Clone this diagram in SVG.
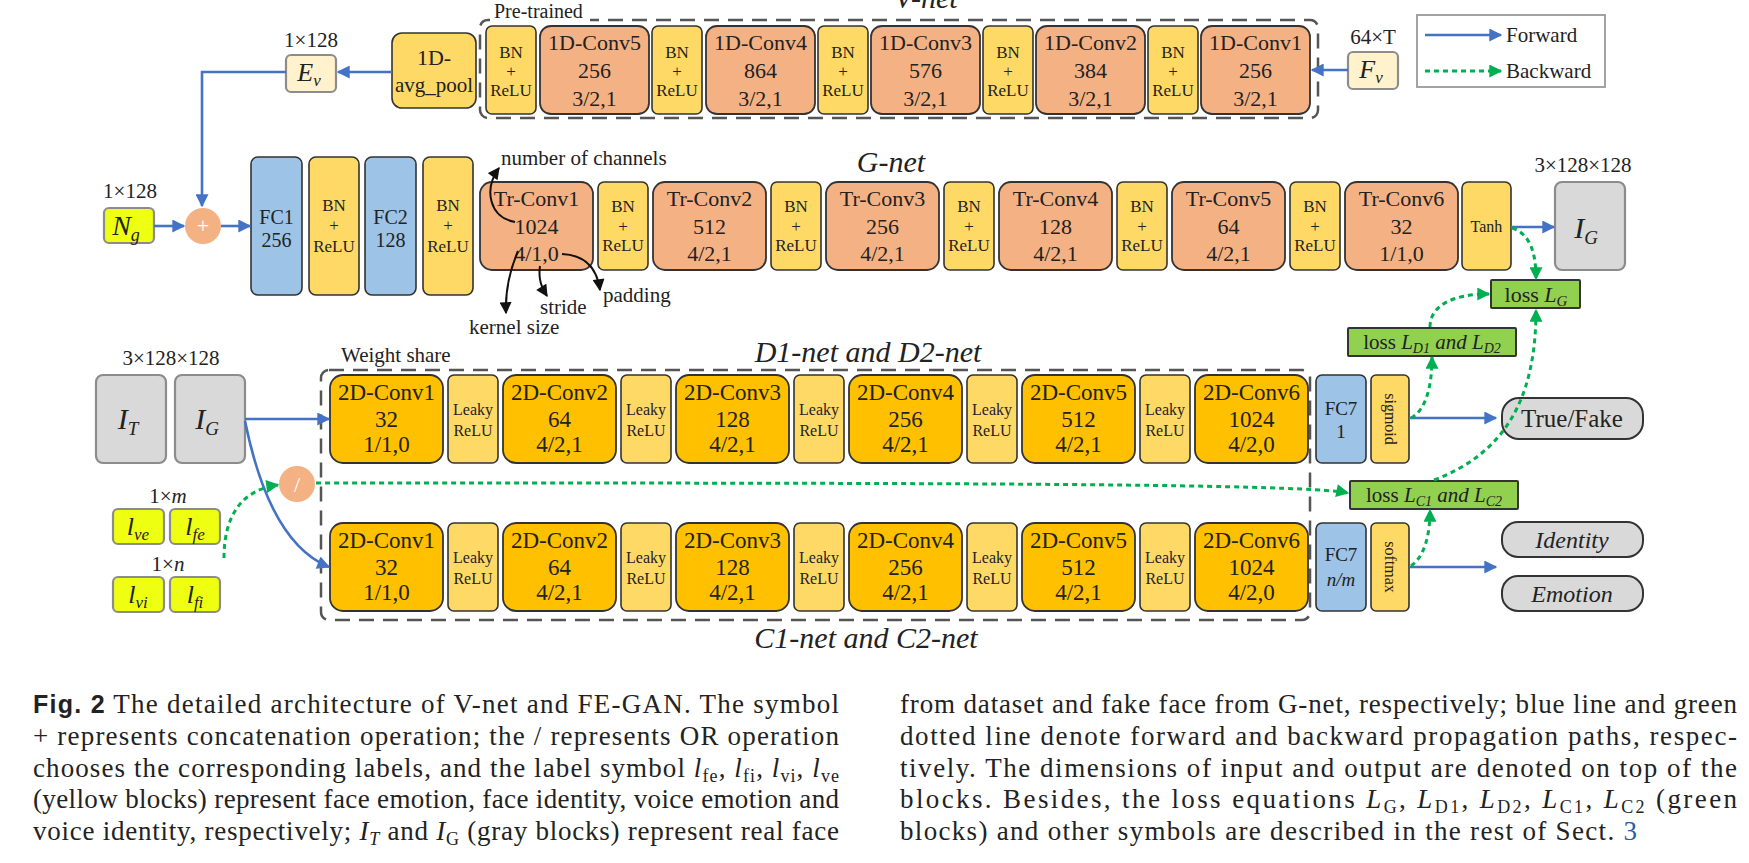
<svg xmlns="http://www.w3.org/2000/svg" width="1749" height="863" viewBox="0 0 1749 863" font-family="'Liberation Serif', 'Times New Roman', serif">
<style>
text{font-family:"Liberation Serif","Times New Roman",serif;fill:#222}
.c1{fill:#F4B183;stroke:#333;stroke-width:1.8}
.bn{fill:#FFD966;stroke:#333;stroke-width:1.6}
.fc{fill:#9DC3E6;stroke:#333;stroke-width:1.6}
.c2{fill:#FFC000;stroke:#333;stroke-width:1.8}
.gray{fill:#D9D9D9;stroke:#8c8c8c;stroke-width:2.2}
.pill{fill:#D9D9D9;stroke:#333;stroke-width:2}
.loss{fill:#92D050;stroke:#333;stroke-width:2}
.lbl{fill:#EEFF11;stroke:#8c8c8c;stroke-width:2.2}
.ev{fill:#FFF2CC;stroke:#8c8c8c;stroke-width:2.2}
.dash{fill:none;stroke:#555;stroke-width:2.5;stroke-dasharray:15 9}
.t22{font-size:22px;text-anchor:middle}
.t23{font-size:23px;text-anchor:middle}
.t17{font-size:17px;text-anchor:middle}
.t16{font-size:16px;text-anchor:middle}
.t21{font-size:21px}
.ttl{font-size:30px;font-style:italic;text-anchor:middle}
.it{font-style:italic}
.blue{fill:none;stroke:#4472C4;stroke-width:2.6}
.green{fill:none;stroke:#00B050;stroke-width:3;stroke-dasharray:5 4}
.blk{fill:none;stroke:#111;stroke-width:2}
.cap{font-size:27px}
.sans{font-family:"Liberation Sans",Arial,sans-serif;font-weight:bold;font-size:25px}
</style>
<defs>
<marker id="ab" viewBox="0 0 10 10" refX="9" refY="5" markerWidth="15" markerHeight="13" markerUnits="userSpaceOnUse" orient="auto"><path d="M0,0 L10,5 L0,10 z" fill="#4472C4"/></marker>
<marker id="ag" viewBox="0 0 10 10" refX="9" refY="5" markerWidth="14" markerHeight="13" markerUnits="userSpaceOnUse" orient="auto"><path d="M0,0 L10,5 L0,10 z" fill="#00B050"/></marker>
<marker id="ak" viewBox="0 0 10 10" refX="9" refY="5" markerWidth="13" markerHeight="12" markerUnits="userSpaceOnUse" orient="auto"><path d="M0,0 L10,5 L0,10 z" fill="#111"/></marker>
</defs>
<rect width="1749" height="863" fill="#fff"/>

<!-- ============ V-net ============ -->
<g id="vnet-frame">
<rect class="dash" x="480" y="20" width="838" height="98" rx="8"/>
<rect x="490" y="2" width="100" height="22" fill="#fff"/>
<text x="494" y="18" font-size="20">Pre-trained</text>
<text class="ttl" x="926" y="8">V-net</text>
</g>
<g id="avgpool"><rect class="bn" x="392" y="33" width="84" height="75" rx="10"/><text class="t22" x="434" y="65">1D-</text><text class="t22" x="434" y="92" style="font-size:21px">avg_pool</text></g>
<g id="vbn0"><rect class="bn" x="486" y="26" width="50" height="88" rx="6"/><text class="t17" x="511" y="58">BN</text><text class="t17" x="511" y="77">+</text><text class="t17" x="511" y="96">ReLU</text></g>
<g id="vconv5"><rect class="c1" x="540" y="26" width="109" height="88" rx="11"/><text class="t22" x="594.5" y="50">1D-Conv5</text><text class="t22" x="594.5" y="78">256</text><text class="t22" x="594.5" y="106">3/2,1</text></g>
<g id="vbn1"><rect class="bn" x="652" y="26" width="50" height="88" rx="6"/><text class="t17" x="677" y="58">BN</text><text class="t17" x="677" y="77">+</text><text class="t17" x="677" y="96">ReLU</text></g>
<g id="vconv4"><rect class="c1" x="706" y="26" width="109" height="88" rx="11"/><text class="t22" x="760.5" y="50">1D-Conv4</text><text class="t22" x="760.5" y="78">864</text><text class="t22" x="760.5" y="106">3/2,1</text></g>
<g id="vbn2"><rect class="bn" x="818" y="26" width="50" height="88" rx="6"/><text class="t17" x="843" y="58">BN</text><text class="t17" x="843" y="77">+</text><text class="t17" x="843" y="96">ReLU</text></g>
<g id="vconv3"><rect class="c1" x="871" y="26" width="109" height="88" rx="11"/><text class="t22" x="925.5" y="50">1D-Conv3</text><text class="t22" x="925.5" y="78">576</text><text class="t22" x="925.5" y="106">3/2,1</text></g>
<g id="vbn3"><rect class="bn" x="983" y="26" width="50" height="88" rx="6"/><text class="t17" x="1008" y="58">BN</text><text class="t17" x="1008" y="77">+</text><text class="t17" x="1008" y="96">ReLU</text></g>
<g id="vconv2"><rect class="c1" x="1036" y="26" width="109" height="88" rx="11"/><text class="t22" x="1090.5" y="50">1D-Conv2</text><text class="t22" x="1090.5" y="78">384</text><text class="t22" x="1090.5" y="106">3/2,1</text></g>
<g id="vbn4"><rect class="bn" x="1148" y="26" width="50" height="88" rx="6"/><text class="t17" x="1173" y="58">BN</text><text class="t17" x="1173" y="77">+</text><text class="t17" x="1173" y="96">ReLU</text></g>
<g id="vconv1"><rect class="c1" x="1201" y="26" width="109" height="88" rx="11"/><text class="t22" x="1255.5" y="50">1D-Conv1</text><text class="t22" x="1255.5" y="78">256</text><text class="t22" x="1255.5" y="106">3/2,1</text></g>
<g id="ev"><text class="t21" x="311" y="47" text-anchor="middle">1×128</text><rect class="ev" x="286" y="55" width="50" height="37" rx="5"/><text x="309" y="81" font-size="26" class="it" text-anchor="middle">E<tspan font-size="17" dy="5">v</tspan></text></g>
<g id="fv"><text class="t21" x="1373" y="44" text-anchor="middle">64×T</text><rect class="ev" x="1348" y="52" width="50" height="37" rx="5"/><text x="1371" y="78" font-size="26" class="it" text-anchor="middle">F<tspan font-size="17" dy="5">v</tspan></text></g>

<!-- legend -->
<g id="legend">
<rect x="1417" y="15" width="188" height="72" fill="#fff" stroke="#999" stroke-width="1.8"/>
<line class="blue" x1="1425" y1="35" x2="1501" y2="35" marker-end="url(#ab)"/>
<text class="t21" x="1506" y="42">Forward</text>
<line class="green" x1="1425" y1="71" x2="1501" y2="71" marker-end="url(#ag)"/>
<text class="t21" x="1506" y="78">Backward</text>
</g>

<!-- ============ G-net ============ -->
<g id="ng"><text class="t21" x="130" y="198" text-anchor="middle">1×128</text><rect class="lbl" x="104" y="208" width="50" height="35" rx="5"/><text x="126" y="235" font-size="28" class="it" text-anchor="middle">N<tspan font-size="18" dy="6">g</tspan></text></g>
<g id="concat"><circle cx="203" cy="226" r="18" fill="#F4B183"/><text x="203" y="233" font-size="22" text-anchor="middle" style="fill:#fff">+</text></g>
<g id="fc1"><rect class="fc" x="251" y="157" width="51" height="138" rx="7"/><text x="276.5" y="224" font-size="20" text-anchor="middle">FC1</text><text x="276.5" y="247" font-size="20" text-anchor="middle">256</text></g>
<g id="gbn0"><rect class="bn" x="309" y="157" width="50" height="138" rx="7"/><text class="t17" x="334" y="211">BN</text><text class="t17" x="334" y="231">+</text><text class="t17" x="334" y="252">ReLU</text></g>
<g id="fc2"><rect class="fc" x="365" y="157" width="51" height="138" rx="7"/><text x="390.5" y="224" font-size="20" text-anchor="middle">FC2</text><text x="390.5" y="247" font-size="20" text-anchor="middle">128</text></g>
<g id="gbn1"><rect class="bn" x="423" y="157" width="50" height="138" rx="7"/><text class="t17" x="448" y="211">BN</text><text class="t17" x="448" y="231">+</text><text class="t17" x="448" y="252">ReLU</text></g>
<g id="trconv1"><rect class="c1" x="480" y="182" width="113" height="88" rx="12"/><text class="t22" x="536.5" y="206">Tr-Conv1</text><text class="t22" x="536.5" y="234">1024</text><text class="t22" x="536.5" y="261">4/1,0</text></g>
<g id="gbn2"><rect class="bn" x="598" y="182" width="50" height="88" rx="6"/><text class="t17" x="623" y="212">BN</text><text class="t17" x="623" y="232">+</text><text class="t17" x="623" y="251">ReLU</text></g>
<g id="trconv2"><rect class="c1" x="653" y="182" width="113" height="88" rx="12"/><text class="t22" x="709.5" y="206">Tr-Conv2</text><text class="t22" x="709.5" y="234">512</text><text class="t22" x="709.5" y="261">4/2,1</text></g>
<g id="gbn3"><rect class="bn" x="771" y="182" width="50" height="88" rx="6"/><text class="t17" x="796" y="212">BN</text><text class="t17" x="796" y="232">+</text><text class="t17" x="796" y="251">ReLU</text></g>
<g id="trconv3"><rect class="c1" x="826" y="182" width="113" height="88" rx="12"/><text class="t22" x="882.5" y="206">Tr-Conv3</text><text class="t22" x="882.5" y="234">256</text><text class="t22" x="882.5" y="261">4/2,1</text></g>
<g id="gbn4"><rect class="bn" x="944" y="182" width="50" height="88" rx="6"/><text class="t17" x="969" y="212">BN</text><text class="t17" x="969" y="232">+</text><text class="t17" x="969" y="251">ReLU</text></g>
<g id="trconv4"><rect class="c1" x="999" y="182" width="113" height="88" rx="12"/><text class="t22" x="1055.5" y="206">Tr-Conv4</text><text class="t22" x="1055.5" y="234">128</text><text class="t22" x="1055.5" y="261">4/2,1</text></g>
<g id="gbn5"><rect class="bn" x="1117" y="182" width="50" height="88" rx="6"/><text class="t17" x="1142" y="212">BN</text><text class="t17" x="1142" y="232">+</text><text class="t17" x="1142" y="251">ReLU</text></g>
<g id="trconv5"><rect class="c1" x="1172" y="182" width="113" height="88" rx="12"/><text class="t22" x="1228.5" y="206">Tr-Conv5</text><text class="t22" x="1228.5" y="234">64</text><text class="t22" x="1228.5" y="261">4/2,1</text></g>
<g id="gbn6"><rect class="bn" x="1290" y="182" width="50" height="88" rx="6"/><text class="t17" x="1315" y="212">BN</text><text class="t17" x="1315" y="232">+</text><text class="t17" x="1315" y="251">ReLU</text></g>
<g id="trconv6"><rect class="c1" x="1345" y="182" width="113" height="88" rx="12"/><text class="t22" x="1401.5" y="206">Tr-Conv6</text><text class="t22" x="1401.5" y="234">32</text><text class="t22" x="1401.5" y="261">1/1,0</text></g>
<g id="tanh"><rect class="bn" x="1462" y="182" width="49" height="88" rx="6"/><text class="t16" x="1486.5" y="232">Tanh</text></g>
<g id="gtitle"><text class="ttl" x="891" y="172">G-net</text></g>
<g id="ig-out"><text class="t21" x="1583" y="172" text-anchor="middle">3×128×128</text><rect class="gray" x="1555" y="182" width="70" height="88" rx="7"/><text x="1586" y="238" font-size="30" class="it" text-anchor="middle">I<tspan font-size="19" dy="6">G</tspan></text></g>
<g id="annot">
<text class="t21" x="501" y="165">number of channels</text>
<text class="t21" x="469" y="334">kernel size</text>
<text class="t21" x="540" y="314">stride</text>
<text class="t21" x="603" y="302">padding</text>
</g>

<!-- ============ D / C nets ============ -->
<g id="dc-frame">
<rect class="dash" x="321" y="370" width="989" height="250" rx="8"/>
<rect x="338" y="345" width="118" height="22" fill="#fff"/>
<text class="t21" x="341" y="362">Weight share</text>
<text class="ttl" x="868" y="362">D1-net and D2-net</text>
<text class="ttl" x="866" y="648">C1-net and C2-net</text>
</g>
<g id="inputs"><text class="t21" x="171" y="365" text-anchor="middle">3×128×128</text>
<rect class="gray" x="96" y="375" width="70" height="88" rx="7"/><text x="128" y="429" font-size="30" class="it" text-anchor="middle">I<tspan font-size="19" dy="6">T</tspan></text>
<rect class="gray" x="175" y="375" width="70" height="88" rx="7"/><text x="207" y="429" font-size="30" class="it" text-anchor="middle">I<tspan font-size="19" dy="6">G</tspan></text></g>
<g id="labels">
<text class="t21" x="168" y="503" text-anchor="middle">1×<tspan class="it">m</tspan></text>
<rect class="lbl" x="113" y="509" width="51" height="35" rx="5"/><text x="138" y="535" font-size="26" class="it" text-anchor="middle">l<tspan font-size="17" dy="5">ve</tspan></text>
<rect class="lbl" x="170" y="509" width="50" height="35" rx="5"/><text x="195" y="535" font-size="26" class="it" text-anchor="middle">l<tspan font-size="17" dy="5">fe</tspan></text>
<text class="t21" x="168" y="571" text-anchor="middle">1×<tspan class="it">n</tspan></text>
<rect class="lbl" x="113" y="577" width="51" height="35" rx="5"/><text x="138" y="603" font-size="26" class="it" text-anchor="middle">l<tspan font-size="17" dy="5">vi</tspan></text>
<rect class="lbl" x="170" y="577" width="50" height="35" rx="5"/><text x="195" y="603" font-size="26" class="it" text-anchor="middle">l<tspan font-size="17" dy="5">fi</tspan></text>
</g>
<g id="or"><circle cx="297" cy="484" r="18" fill="#F4B183"/><text x="297" y="492" font-size="22" text-anchor="middle" style="fill:#fff">/</text></g>

<g id="d-conv1"><rect class="c2" x="330" y="375" width="113" height="88" rx="13"/><text class="t23" x="386.5" y="400">2D-Conv1</text><text class="t23" x="386.5" y="427">32</text><text class="t23" x="386.5" y="452">1/1,0</text></g>
<g id="d-lr1"><rect class="bn" x="448" y="375" width="50" height="88" rx="6"/><text class="t16" x="473" y="415">Leaky</text><text class="t16" x="473" y="436">ReLU</text></g>
<g id="d-conv2"><rect class="c2" x="503" y="375" width="113" height="88" rx="13"/><text class="t23" x="559.5" y="400">2D-Conv2</text><text class="t23" x="559.5" y="427">64</text><text class="t23" x="559.5" y="452">4/2,1</text></g>
<g id="d-lr2"><rect class="bn" x="621" y="375" width="50" height="88" rx="6"/><text class="t16" x="646" y="415">Leaky</text><text class="t16" x="646" y="436">ReLU</text></g>
<g id="d-conv3"><rect class="c2" x="676" y="375" width="113" height="88" rx="13"/><text class="t23" x="732.5" y="400">2D-Conv3</text><text class="t23" x="732.5" y="427">128</text><text class="t23" x="732.5" y="452">4/2,1</text></g>
<g id="d-lr3"><rect class="bn" x="794" y="375" width="50" height="88" rx="6"/><text class="t16" x="819" y="415">Leaky</text><text class="t16" x="819" y="436">ReLU</text></g>
<g id="d-conv4"><rect class="c2" x="849" y="375" width="113" height="88" rx="13"/><text class="t23" x="905.5" y="400">2D-Conv4</text><text class="t23" x="905.5" y="427">256</text><text class="t23" x="905.5" y="452">4/2,1</text></g>
<g id="d-lr4"><rect class="bn" x="967" y="375" width="50" height="88" rx="6"/><text class="t16" x="992" y="415">Leaky</text><text class="t16" x="992" y="436">ReLU</text></g>
<g id="d-conv5"><rect class="c2" x="1022" y="375" width="113" height="88" rx="13"/><text class="t23" x="1078.5" y="400">2D-Conv5</text><text class="t23" x="1078.5" y="427">512</text><text class="t23" x="1078.5" y="452">4/2,1</text></g>
<g id="d-lr5"><rect class="bn" x="1140" y="375" width="50" height="88" rx="6"/><text class="t16" x="1165" y="415">Leaky</text><text class="t16" x="1165" y="436">ReLU</text></g>
<g id="d-conv6"><rect class="c2" x="1195" y="375" width="113" height="88" rx="13"/><text class="t23" x="1251.5" y="400">2D-Conv6</text><text class="t23" x="1251.5" y="427">1024</text><text class="t23" x="1251.5" y="452">4/2,0</text></g>
<g id="d-fc7"><rect class="fc" x="1316" y="375" width="50" height="88" rx="6"/><text x="1341" y="415" font-size="19" text-anchor="middle">FC7</text><text x="1341" y="438" font-size="19" text-anchor="middle">1</text></g>
<g id="sigmoid"><rect class="bn" x="1371" y="375" width="38" height="88" rx="5"/><text class="t16" transform="translate(1390,419) rotate(90)" x="0" y="5.5">sigmoid</text></g>

<g id="c-conv1"><rect class="c2" x="330" y="523" width="113" height="88" rx="13"/><text class="t23" x="386.5" y="548">2D-Conv1</text><text class="t23" x="386.5" y="575">32</text><text class="t23" x="386.5" y="600">1/1,0</text></g>
<g id="c-lr1"><rect class="bn" x="448" y="523" width="50" height="88" rx="6"/><text class="t16" x="473" y="563">Leaky</text><text class="t16" x="473" y="584">ReLU</text></g>
<g id="c-conv2"><rect class="c2" x="503" y="523" width="113" height="88" rx="13"/><text class="t23" x="559.5" y="548">2D-Conv2</text><text class="t23" x="559.5" y="575">64</text><text class="t23" x="559.5" y="600">4/2,1</text></g>
<g id="c-lr2"><rect class="bn" x="621" y="523" width="50" height="88" rx="6"/><text class="t16" x="646" y="563">Leaky</text><text class="t16" x="646" y="584">ReLU</text></g>
<g id="c-conv3"><rect class="c2" x="676" y="523" width="113" height="88" rx="13"/><text class="t23" x="732.5" y="548">2D-Conv3</text><text class="t23" x="732.5" y="575">128</text><text class="t23" x="732.5" y="600">4/2,1</text></g>
<g id="c-lr3"><rect class="bn" x="794" y="523" width="50" height="88" rx="6"/><text class="t16" x="819" y="563">Leaky</text><text class="t16" x="819" y="584">ReLU</text></g>
<g id="c-conv4"><rect class="c2" x="849" y="523" width="113" height="88" rx="13"/><text class="t23" x="905.5" y="548">2D-Conv4</text><text class="t23" x="905.5" y="575">256</text><text class="t23" x="905.5" y="600">4/2,1</text></g>
<g id="c-lr4"><rect class="bn" x="967" y="523" width="50" height="88" rx="6"/><text class="t16" x="992" y="563">Leaky</text><text class="t16" x="992" y="584">ReLU</text></g>
<g id="c-conv5"><rect class="c2" x="1022" y="523" width="113" height="88" rx="13"/><text class="t23" x="1078.5" y="548">2D-Conv5</text><text class="t23" x="1078.5" y="575">512</text><text class="t23" x="1078.5" y="600">4/2,1</text></g>
<g id="c-lr5"><rect class="bn" x="1140" y="523" width="50" height="88" rx="6"/><text class="t16" x="1165" y="563">Leaky</text><text class="t16" x="1165" y="584">ReLU</text></g>
<g id="c-conv6"><rect class="c2" x="1195" y="523" width="113" height="88" rx="13"/><text class="t23" x="1251.5" y="548">2D-Conv6</text><text class="t23" x="1251.5" y="575">1024</text><text class="t23" x="1251.5" y="600">4/2,0</text></g>
<g id="c-fc7"><rect class="fc" x="1316" y="523" width="50" height="88" rx="6"/><text x="1341" y="561" font-size="19" text-anchor="middle">FC7</text><text x="1341" y="586" font-size="19" text-anchor="middle" class="it">n/m</text></g>
<g id="softmax"><rect class="bn" x="1371" y="523" width="38" height="88" rx="5"/><text class="t16" transform="translate(1390,567) rotate(90)" x="0" y="5.5">softmax</text></g>

<g id="truefake"><rect class="pill" x="1502" y="398" width="141" height="41" rx="17"/><text x="1572" y="427" font-size="25" text-anchor="middle">True/Fake</text></g>
<g id="identity"><rect class="pill" x="1502" y="522" width="141" height="35" rx="16"/><text x="1572" y="548" font-size="24" class="it" text-anchor="middle">Identity</text></g>
<g id="emotion"><rect class="pill" x="1502" y="576" width="141" height="35" rx="16"/><text x="1572" y="602" font-size="24" class="it" text-anchor="middle">Emotion</text></g>

<g id="lossG"><rect class="loss" x="1491" y="280" width="89" height="28" rx="1"/><text x="1536" y="302" font-size="22" text-anchor="middle">loss <tspan class="it">L</tspan><tspan class="it" font-size="15" dy="4">G</tspan></text></g>
<g id="lossD"><rect class="loss" x="1348" y="328" width="168" height="28" rx="1"/><text x="1432" y="349" font-size="21" text-anchor="middle">loss <tspan class="it">L</tspan><tspan class="it" font-size="14" dy="4">D1</tspan><tspan class="it" dy="-4"> and L</tspan><tspan class="it" font-size="14" dy="4">D2</tspan></text></g>
<g id="lossC"><rect class="loss" x="1350" y="481" width="168" height="28" rx="1"/><text x="1434" y="502" font-size="21" text-anchor="middle">loss <tspan class="it">L</tspan><tspan class="it" font-size="14" dy="4">C1</tspan><tspan class="it" dy="-4"> and L</tspan><tspan class="it" font-size="14" dy="4">C2</tspan></text></g>

<!-- ============ connectors ============ -->
<g id="connectors">
<path class="blue" d="M392 72 H338" marker-end="url(#ab)"/>
<path class="blue" d="M286 72 H202 V206" marker-end="url(#ab)"/>
<path class="blue" d="M1348 70 H1312" marker-end="url(#ab)"/>
<path class="blue" d="M154 226 H184" marker-end="url(#ab)"/>
<path class="blue" d="M221 226 H250" marker-end="url(#ab)"/>
<path class="blue" d="M1511 227 H1554" marker-end="url(#ab)"/>
<path class="blue" d="M245 419 H329" marker-end="url(#ab)"/>
<path class="blue" d="M245 421 C258 485 282 548 329 567" marker-end="url(#ab)"/>
<path class="blue" d="M1409 418 H1496" marker-end="url(#ab)"/>
<path class="blue" d="M1410 567 H1496" marker-end="url(#ab)"/>
<path class="green" d="M1512 228 C1530 234 1536 252 1536 279" marker-end="url(#ag)"/>
<path class="green" d="M1430 327 C1430 306 1452 294 1489 294" marker-end="url(#ag)"/>
<path class="green" d="M1434 480 C1500 455 1536 405 1536 310" marker-end="url(#ag)"/>
<path class="green" d="M1411 418 C1426 410 1432 386 1432 357" marker-end="url(#ag)"/>
<path class="green" d="M1411 566 C1425 556 1430 534 1430 510" marker-end="url(#ag)"/>
<path class="green" d="M224 558 C224 518 240 490 278 485" marker-end="url(#ag)"/>
<path class="green" d="M316 483 C900 483 1300 483 1348 493" marker-end="url(#ag)"/>
<path class="blk" d="M515 222 C490 218 483 190 499 168" marker-end="url(#ak)"/>
<path class="blk" d="M518 251 C510 270 505 290 506 313" marker-end="url(#ak)"/>
<path class="blk" d="M540 266 C538 280 542 288 547 296" marker-end="url(#ak)"/>
<path class="blk" d="M562 254 C585 255 597 268 600 290" marker-end="url(#ak)"/>
</g>

<!-- ============ caption ============ -->
<g id="caption">
<text class="cap" x="33" y="713" textLength="806" lengthAdjust="spacing"><tspan class="sans">Fig. 2</tspan>  The detailed architecture of V-net and FE-GAN. The symbol</text>
<text class="cap" x="33" y="745" textLength="806" lengthAdjust="spacing">+ represents concatenation operation; the / represents OR operation</text>
<text class="cap" x="33" y="777" textLength="806" lengthAdjust="spacing">chooses the corresponding labels, and the label symbol <tspan class="it">l</tspan><tspan font-size="18" dy="5">fe</tspan><tspan dy="-5">, </tspan><tspan class="it">l</tspan><tspan font-size="18" dy="5">fi</tspan><tspan dy="-5">, </tspan><tspan class="it">l</tspan><tspan font-size="18" dy="5">vi</tspan><tspan dy="-5">, </tspan><tspan class="it">l</tspan><tspan font-size="18" dy="5">ve</tspan></text>
<text class="cap" x="33" y="808" textLength="806" lengthAdjust="spacing">(yellow blocks) represent face emotion, face identity, voice emotion and</text>
<text class="cap" x="33" y="840" textLength="806" lengthAdjust="spacing">voice identity, respectively; <tspan class="it">I</tspan><tspan class="it" font-size="18" dy="5">T</tspan><tspan dy="-5"> and </tspan><tspan class="it">I</tspan><tspan font-size="18" dy="5">G</tspan><tspan dy="-5"> (gray blocks) represent real face</tspan></text>
<text class="cap" x="900" y="713" textLength="837" lengthAdjust="spacing">from dataset and fake face from G-net, respectively; blue line and green</text>
<text class="cap" x="900" y="745" textLength="837" lengthAdjust="spacing">dotted line denote forward and backward propagation paths, respec-</text>
<text class="cap" x="900" y="777" textLength="837" lengthAdjust="spacing">tively. The dimensions of input and output are denoted on top of the</text>
<text class="cap" x="900" y="808" textLength="837" lengthAdjust="spacing">blocks. Besides, the loss equations <tspan class="it">L</tspan><tspan font-size="18" dy="5">G</tspan><tspan dy="-5">, </tspan><tspan class="it">L</tspan><tspan font-size="18" dy="5">D1</tspan><tspan dy="-5">, </tspan><tspan class="it">L</tspan><tspan font-size="18" dy="5">D2</tspan><tspan dy="-5">, </tspan><tspan class="it">L</tspan><tspan font-size="18" dy="5">C1</tspan><tspan dy="-5">, </tspan><tspan class="it">L</tspan><tspan font-size="18" dy="5">C2</tspan><tspan dy="-5"> (green</tspan></text>
<text class="cap" x="900" y="840" textLength="737" lengthAdjust="spacing">blocks) and other symbols are described in the rest of Sect. <tspan style="fill:#1F5FA8">3</tspan></text>
</g>
</svg>
